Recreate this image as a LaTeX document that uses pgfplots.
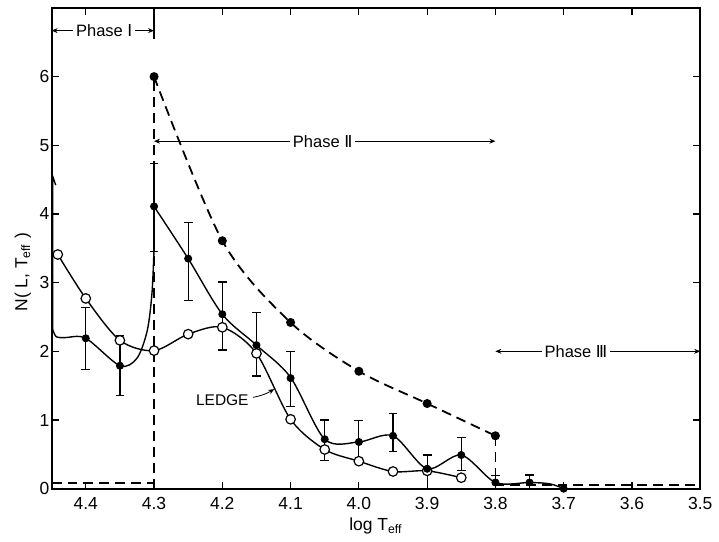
\documentclass[border=0pt]{standalone}
\usepackage{fontspec}
\setmainfont{Liberation Sans}
\newfontfamily\dv{DejaVu Sans}
\usepackage{pgfplots}
\pgfplotsset{compat=1.18}
\usetikzlibrary{arrows.meta}
\begin{document}
\begin{tikzpicture}
\begin{axis}[
 scale only axis, width=326.5pt, height=242pt,
 x dir=reverse, xmin=3.5, xmax=4.45, ymin=0, ymax=7,
 xtick={3.5,3.6,3.7,3.8,3.9,4.0,4.1,4.2,4.3,4.4},
 xticklabels={3.5,3.6,3.7,3.8,3.9,4.0,4.1,4.2,4.3,4.4},
 ytick={0,1,2,3,4,5,6},
 yticklabels={0,1,2,3,4,5,6},
 tick align=inside, tick pos=both, major tick length=3.5pt,
 axis line style={line width=1.1pt},
 tick style={line width=0.6pt, black},
 ticklabel style={font=\fontsize{8.8}{10}\selectfont},
 xticklabel style={yshift=-1pt},
 yticklabel style={inner sep=1pt},
 xlabel={log T\textsubscript{eff}},
 ylabel={N( L, T\textsubscript{eff} )},
 label style={font=\fontsize{8.8}{10}\selectfont},
 xlabel style={at={(axis description cs:0.5,-0.0785)}, anchor=center},
 ylabel style={at={(axis description cs:-0.0444,0.45)}, anchor=center},
 clip=false,
]
% dashed upper envelope
\addplot[black, line width=0.9pt, dash pattern=on 5pt off 3pt, smooth, mark=*, mark size=1.8pt, mark options={solid}]
 coordinates {(4.3,6.0)(4.2,3.61)(4.1,2.42)(4.0,1.71)(3.9,1.24)(3.8,0.77)};
\addplot[black, line width=0.9pt, dash pattern=on 5pt off 3pt] coordinates {(4.45,0.085)(4.3,0.085)};
\addplot[black, line width=0.9pt, dash pattern=on 5pt off 3pt] coordinates {(4.3,0)(4.3,6.0)};
\addplot[black, line width=0.9pt, dash pattern=on 5pt off 3pt] coordinates {(3.8,0.77)(3.8,0.055)(3.5,0.055)};
% filled curve: line
\addplot[black, line width=0.7pt] coordinates {(4.444,4.42)(4.4485,4.55)(4.4485,2.32)};
\addplot[black, line width=0.7pt, smooth] coordinates {(4.4485,2.32)(4.443,2.21)(4.43,2.2)(4.4,2.19)(4.35,1.79)(4.325,1.9)(4.31,2.3)(4.303,2.85)(4.3,3.5)};
\addplot[black, line width=0.7pt, smooth] coordinates {(4.3,4.11)(4.25,3.35)(4.2,2.54)(4.15,2.09)(4.1,1.62)(4.05,0.72)(4.0,0.68)(3.95,0.77)(3.9,0.29)(3.85,0.49)(3.8,0.09)(3.75,0.09)(3.72,0.07)(3.7,0.0)};
% open circle curve
\addplot[black, line width=0.7pt, smooth, mark=*, mark size=2.4pt, mark options={fill=white, draw=black, line width=0.6pt}]
 coordinates {(4.441,3.41)(4.4,2.77)(4.35,2.16)(4.3,2.01)(4.25,2.25)(4.2,2.35)(4.15,1.97)(4.1,1.01)(4.05,0.57)(4.0,0.4)(3.95,0.25)(3.9,0.26)(3.85,0.16)};
% filled points with error bars
\addplot[black, only marks, mark=*, mark size=1.8pt,
 error bars/.cd, y dir=both, y explicit,
 error mark=-,
 error mark options={black, rotate=90, mark size=2.2pt, line width=0.6pt},
 error bar style={line width=0.6pt, black}]
 coordinates {
 (4.4,2.19) += (0,0.45) -= (0,0.45)
 (4.35,1.79) += (0,0.44) -= (0,0.43)
 (4.3,4.11) += (0,0.63) -= (0,0.66)
 (4.25,3.35) += (0,0.52) -= (0,0.61)
 (4.2,2.54) += (0,0.47) -= (0,0.52)
 (4.15,2.09) += (0,0.48) -= (0,0.45)
 (4.1,1.61) += (0,0.39) -= (0,0.41)
 (4.05,0.72) += (0,0.28) -= (0,0.31)
 (4.0,0.68) += (0,0.31) -= (0,0.29)
 (3.95,0.77) += (0,0.32) -= (0,0.23)
 (3.9,0.29) += (0,0.2) -= (0,0.29)
 (3.85,0.49) += (0,0.25) -= (0,0.23)
 (3.8,0.09) += (0,0.1) -= (0,0.09)
 (3.75,0.09) += (0,0.11) -= (0,0.09)
 };
\addplot[black, only marks, mark=*, mark size=1.8pt] coordinates {(3.7,0.0)};
% annotations
\draw[line width=0.4pt, {Stealth[length=3pt,width=2.5pt]}-{Stealth[length=3pt,width=2.5pt]}] (axis cs:4.45,6.67) -- (axis cs:4.3,6.67);
\node[fill=white, inner sep=1.5pt, font=\fontsize{8.3}{9}\selectfont] at (axis cs:4.373,6.67) {Phase {\dv Ⅰ}};
\draw[line width=0.6pt] (axis cs:4.3,7) -- (axis cs:4.3,6.55);
\draw[line width=0.4pt, {Stealth[length=3pt,width=2.5pt]}-{Stealth[length=3pt,width=2.5pt]}] (axis cs:4.3,5.06) -- (axis cs:3.8,5.06);
\node[fill=white, inner sep=1.5pt, font=\fontsize{8.3}{9}\selectfont] at (axis cs:4.053,5.06) {Phase {\dv Ⅱ}};
\draw[line width=0.4pt, {Stealth[length=3pt,width=2.5pt]}-{Stealth[length=3pt,width=2.5pt]}] (axis cs:3.8,2.0) -- (axis cs:3.5,2.0);
\node[fill=white, inner sep=1.5pt, font=\fontsize{8.3}{9}\selectfont] at (axis cs:3.682,2.0) {Phase {\dv Ⅲ}};
\node[font=\fontsize{7.8}{9}\selectfont] at (axis cs:4.2,1.29) {LEDGE};
\draw[line width=0.4pt, -{Stealth[length=3pt,width=2.5pt]}] (axis cs:4.155,1.33) to[bend right=10] (axis cs:4.124,1.45);
\end{axis}
\path (current axis.south west) ++(-26pt,-25.5pt) rectangle ([xshift=7pt,yshift=4pt]current axis.north east);
\end{tikzpicture}
\end{document}
